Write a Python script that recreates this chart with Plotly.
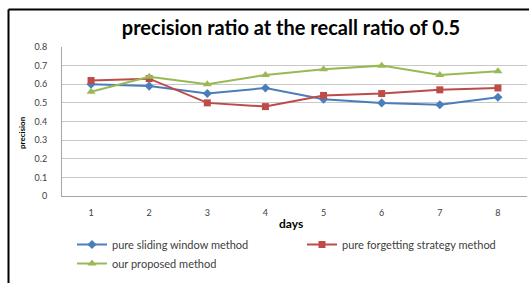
import plotly.graph_objects as go

days = [1, 2, 3, 4, 5, 6, 7, 8]
day_labels = ["1", "2", "3", "4", "5", "6", "7", "8"]
sliding = [0.60, 0.59, 0.55, 0.58, 0.52, 0.50, 0.49, 0.53]
forgetting = [0.62, 0.63, 0.50, 0.48, 0.54, 0.55, 0.57, 0.58]
proposed = [0.56, 0.64, 0.60, 0.65, 0.68, 0.70, 0.65, 0.67]
y_ticks = [0, 0.1, 0.2, 0.3, 0.4, 0.5, 0.6, 0.7, 0.8]
y_labels = ["0", "0.1", "0.2", "0.3", "0.4", "0.5", "0.6", "0.7", "0.8"]

W, H = 529, 283
L, R, T, B = 62, 2, 47, 87
pw = W - L - R
ph = H - T - B

fig = go.Figure()
fig.add_trace(go.Scatter(x=days, y=sliding, mode="lines+markers", name="pure sliding window method",
                         line=dict(color="#4a7ebb", width=2),
                         marker=dict(symbol="diamond", size=7, color="#4a7ebb")))
fig.add_trace(go.Scatter(x=days, y=forgetting, mode="lines+markers", name="pure forgetting strategy method",
                         line=dict(color="#be4b48", width=2),
                         marker=dict(symbol="square", size=7, color="#be4b48")))
fig.add_trace(go.Scatter(x=days, y=proposed, mode="lines+markers", name="our proposed method",
                         line=dict(color="#98b954", width=2),
                         marker=dict(symbol="triangle-up", size=8, color="#98b954")))

def px_x(x):
    return (x - L) / pw

def px_y(y):
    return 1 - (y - T) / ph

fig.update_layout(
    width=W, height=H,
    margin=dict(l=L, r=R, t=T, b=B, autoexpand=False),
    paper_bgcolor="white", plot_bgcolor="white",
    font=dict(family="Lato, Open Sans, sans-serif", color="#595959", size=9),
    title=dict(text="<b>precision ratio at the recall ratio of 0.5</b>",
               x=291 / W, xanchor="center", y=1 - 28 / H, yanchor="middle",
               font=dict(size=20, color="#000000", family="Lato, Open Sans, sans-serif")),
    xaxis=dict(range=[0.5, 8.5], tickvals=days, ticktext=day_labels, showgrid=False,
               showline=True, linecolor="#a6a6a6", linewidth=1, zeroline=False,
               tickfont=dict(size=9, color="#404040"), ticks="", ticklabelstandoff=8),
    yaxis=dict(range=[0, 0.8], tickvals=y_ticks, ticktext=y_labels, showgrid=True,
               gridcolor="#c8c8c8", gridwidth=1, showline=True, linecolor="#a6a6a6",
               zeroline=False, tickfont=dict(size=9, color="#404040"), ticks="", ticklabelstandoff=12),
    showlegend=True,
    legend=dict(orientation="h", xref="container", yref="container",
                x=72 / W, xanchor="left", y=1 - 230 / H, yanchor="top",
                entrywidth=185, entrywidthmode="pixels", font=dict(size=11, color="#404040"),
                itemwidth=30, tracegroupgap=0, bgcolor="rgba(0,0,0,0)"),
    annotations=[
        dict(text="<b>days</b>", x=px_x(291), y=px_y(223), xref="paper", yref="paper",
             xanchor="center", yanchor="middle",
             showarrow=False, font=dict(size=12, color="#000000")),
        dict(text="<b>precision</b>", x=px_x(22), y=px_y(133), xref="paper", yref="paper",
             xanchor="center", yanchor="middle",
             showarrow=False, textangle=-90, font=dict(size=8, color="#000000")),
    ],
    shapes=[
        dict(type="line", xref="paper", yref="paper", x0=px_x(8.5), x1=px_x(8.5), y0=px_y(9.5), y1=px_y(283),
             line=dict(color="black", width=2)),
        dict(type="line", xref="paper", yref="paper", x0=px_x(8.5), x1=px_x(529), y0=px_y(9.5), y1=px_y(9.5),
             line=dict(color="black", width=2)),
    ],
)

fig.write_html("out.html", config={"displayModeBar": False},
               post_script="document.body.style.margin='0';document.body.style.overflow='hidden';")
